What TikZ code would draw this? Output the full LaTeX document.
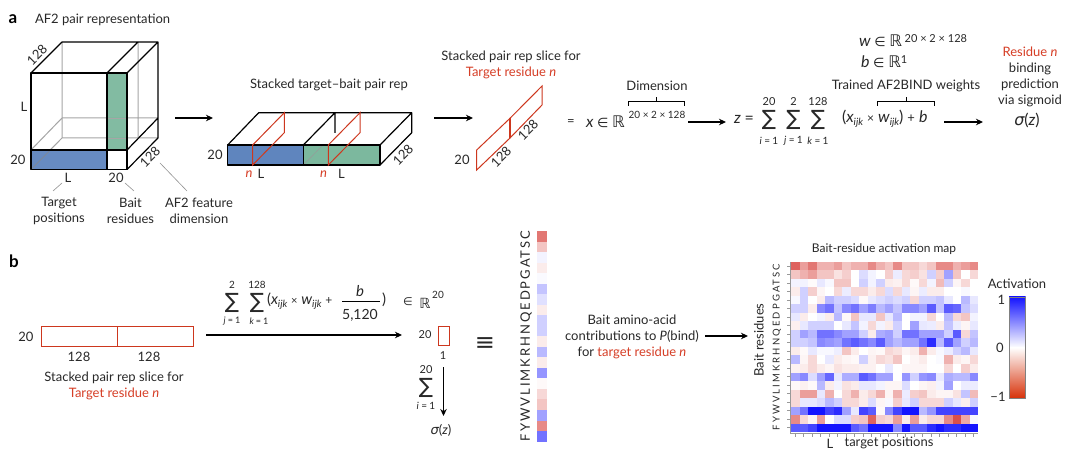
\documentclass[tikz,border=0pt]{standalone}
\usepackage{fontspec}
\setmainfont{Lato}
\newfontfamily\symf{DejaVu Sans}
\usetikzlibrary{arrows.meta}
\definecolor{ink}{RGB}{40,40,40}
\definecolor{tred}{RGB}{214,62,38}
\definecolor{lred}{RGB}{205,55,30}
\definecolor{bluef}{RGB}{95,133,190}
\definecolor{greenf}{RGB}{124,184,158}
\definecolor{hblue}{RGB}{20,20,255}
\definecolor{hred}{RGB}{214,60,55}
\definecolor{edgegray}{RGB}{165,165,165}
\newcommand\fs[1]{\fontsize{#1}{#1}\selectfont}
\newcommand\sbs[1]{\raisebox{-3pt}{\fs{10}\itshape #1}}
\newcommand\sps[1]{\raisebox{5pt}{\fs{10}#1}}
\newcommand\tr[1]{{\color{tred}#1}}
\tikzset{
  txt/.style={inner sep=0pt,outer sep=0pt,text=ink,align=center,font=\fontsize{13}{16}\selectfont},
  small/.style={txt,font=\fontsize{10}{12}\selectfont},
  big/.style={txt,font=\fontsize{16}{19}\selectfont},
  sumg/.style={txt,font=\symf\fontsize{21}{21}\selectfont},
  panel/.style={txt,font=\bfseries\fontsize{17}{17}\selectfont,text=black},
  arr/.style={line width=1.6pt,-{Stealth[length=7pt,width=6.5pt]},black},
  edge/.style={line width=1.2pt,black,line join=round},
  back/.style={line width=1pt,edgegray},
  thin/.style={line width=.6pt,gray!85},
  rededge/.style={line width=1pt,lred,line join=miter},
  brack/.style={line width=.9pt,black},
}
\begin{document}
\begin{tikzpicture}[x=1pt,y=-1pt]
\useasboundingbox (0,0) rectangle (1080,457);
\fill[white] (0,0) rectangle (1080,457);
% ---- panel a
\node[panel] (pa) at (13,19) {a};
\node[txt,anchor=west] (tpair) at (35,20) {AF2 pair representation};
% cube
\draw[back] (62,42)--(62,138)--(158,138) (31,169.5)--(62,138) (62,118)--(158,118) (31,150)--(62,118) (138,42)--(138,138);
\fill[bluef,opacity=.95] (31,150) rectangle (107,169.5);
\fill[greenf,opacity=.95] (107,73) rectangle (127,150);
\draw[line width=.5pt,black!45] (31,169.5)--(50.5,150);
\draw[line width=.5pt,black!35] (107,118)--(127,118) (107,138)--(127,138);
\draw[edge] (31,73) rectangle (127,169.5);
\draw[edge] (107,73)--(107,169.5) (31,150)--(127,150);
\draw[edge] (31,73)--(62,42)--(158,42)--(158,138)--(127,169.5) (127,73)--(158,42) (107,73)--(138,42) (127,150)--(158,118);
\node[txt,rotate=45] (c128a) at (37,55) {128};
\node[txt] (cLa) at (24,107) {L};
\node[txt] (c20a) at (18,160) {20};
\node[txt] (cLb) at (68,178) {L};
\node[txt] (c20b) at (116,178) {20};
\node[txt,rotate=45] (c128b) at (150,157) {128};
\node[txt] (ltarget) at (59,211) {Target\\positions};
\node[txt] (lbait) at (130.5,211) {Bait\\residues};
\node[txt] (lfeat) at (199,211) {AF2 feature\\dimension};
\coordinate (ld1a) at (62,183); \coordinate (ld1b) at (53,191);
\coordinate (ld2a) at (125,183); \coordinate (ld2b) at (134,191);
\coordinate (ld3a) at (160,163); \coordinate (ld3b) at (187,191);
\draw[thin] (ld1a)--(ld1b); \draw[thin] (ld2a)--(ld2b); \draw[thin] (ld3a)--(ld3b);
\coordinate (ar1a) at (175,118); \coordinate (ar1b) at (213,118);
\draw[arr] (ar1a)--(ar1b);
% stack
\node[txt] (tstack) at (329,85) {Stacked target--bait pair rep};
\fill[bluef] (227.7,145) rectangle (303.3,165);
\fill[greenf] (303.3,145) rectangle (380,165);
\draw[line width=.5pt,black!40] (252.7,165)--(272,145) (303.3,165)--(323,145);
\draw[edge] (227.7,145)--(380,145)--(380,165)--(227.7,165)--cycle;
\draw[edge] (303.3,145)--(303.3,165);
\draw[edge] (227.7,145)--(258.7,112.7)--(411.7,112.7)--(411.7,132.7)--(380,165) (380,145)--(411.7,112.7) (303.3,145)--(335,112.7)--(335,133);
\draw[rededge] (252.7,165)--(252.7,145)--(284.3,112.7)--(284.3,132.7)--cycle;
\draw[rededge] (328.3,165)--(328.3,145)--(360,112.7)--(360,132.7)--cycle;
\node[txt] (s20) at (215,155) {20};
\node[txt] (sn1) at (249,174) {\tr{\itshape n}};
\node[txt] (sL1) at (261,174) {L};
\node[txt] (sn2) at (323.5,174) {\tr{\itshape n}};
\node[txt] (sL2) at (341.5,174) {L};
\node[txt,rotate=45] (s128) at (403,155) {128};
\coordinate (ar2a) at (434,118); \coordinate (ar2b) at (473,118);
\draw[arr] (ar2a)--(ar2b);
% slice
\node[txt] (tslice) at (511,65) {Stacked pair rep slice for\\\tr{Target residue \itshape n}};
\draw[rededge] (476.7,170)--(476.7,150)--(510,118.3)--(510,138)--cycle;
\draw[rededge] (510,138)--(510,118.3)--(542,86)--(542,105)--cycle;
\draw[line width=1.8pt,lred] (510,118.3)--(510,138);
\node[txt] (sl20) at (462,160) {20};
\node[txt,rotate=45] (sl128a) at (501,157) {128};
\node[txt,rotate=45] (sl128b) at (528,130) {128};
% formula
\node[txt] (eqa) at (571,123) {=};
\node[big,anchor=west] (fx) at (586,122) {\itshape x {\symf\fs{13}∈} {\symf ℝ}};
\node[small] (fxs) at (657,115) {20 × 2 × 128};
\node[txt] (tdim) at (657,86) {Dimension};
\draw[brack] (628,106)--(628,101)--(684.5,101)--(684.5,106) (656.5,101)--(656.5,97);
\coordinate (ar3a) at (688,122); \coordinate (ar3b) at (726,122);
\draw[arr] (ar3a)--(ar3b);
\node[big,anchor=west] (fz) at (734,119) {\itshape z {\upshape =}};
\node[sumg] (su1) at (769,120) {∑}; \node[sumg] (su2) at (793.5,120) {∑}; \node[sumg] (su3) at (818,120) {∑};
\node[txt,font=\fs{11}] (su1u) at (769,102) {20}; \node[txt,font=\fs{11}] (su2u) at (793.5,102) {2}; \node[txt,font=\fs{11}] (su3u) at (818,102) {128};
\node[small] (su1l) at (769,141) {\itshape i {\upshape =} {\upshape 1}}; \node[small] (su2l) at (793.5,141) {\itshape j {\upshape =} {\upshape 1}}; \node[small] (su3l) at (818,141) {\itshape k {\upshape =} {\upshape 1}};
\node[big,anchor=west] (fsum) at (842,119) {({\itshape x}\sbs{ijk} {\fs{12}×} {\itshape w}\sbs{ijk}) {\fs{13}+} {\itshape b}};
\draw[brack] (877,106)--(877,101)--(934,101)--(934,106) (906,101)--(906,97);
\node[txt] (ttrain) at (906,86) {Trained AF2BIND weights};
\node[big,anchor=west] (fw) at (859,41) {\itshape w {\symf\fs{13}∈} {\symf ℝ}\,{\upshape\fs{11}\raisebox{4pt}{20 × 2 × 128}}};
\node[big,anchor=west] (fb) at (861,62) {\itshape b {\symf\fs{13}∈} {\symf ℝ}{\upshape\fs{11}\raisebox{4pt}{1}}};
\coordinate (ar4a) at (944,122); \coordinate (ar4b) at (983,122);
\draw[arr] (ar4a)--(ar4b);
\node[txt] (tres) at (1030,77) {\tr{Residue \itshape n}\\binding\\prediction\\via sigmoid};
\node[big] (fsig) at (1027,120) {{\symf\itshape σ}({\itshape z})};
% ---- panel b
\node[panel] (pb) at (14,261) {b};
\node[sumg] (bs1) at (232,303) {∑}; \node[sumg] (bs2) at (257,303) {∑};
\node[small] (bs1u) at (232,285) {2}; \node[small] (bs2u) at (257,285) {128};
\node[small,font=\fs{9}] (bs1l) at (232,321) {\itshape j {\upshape =} {\upshape 1}}; \node[small,font=\fs{9}] (bs2l) at (259,321) {\itshape k {\upshape =} {\upshape 1}};
\node[txt,anchor=west,font=\fs{15}] (bform) at (267,301) {({\itshape x}\sbs{ijk} {\fs{11}×} {\itshape w}\sbs{ijk} {\fs{12}+}};
\node[txt,font=\fs{15}] (bfb) at (360,291) {\itshape b};
\node[txt,font=\fs{14}] (bfd) at (360,315) {5,120};
\coordinate (bfl) at (342,301.5); \coordinate (bfr) at (380,301.5);
\draw[line width=.8pt,black] (bfl)--(bfr);
\node[txt,font=\fs{15}] (bclose) at (384,300) {)};
\node[txt,font=\symf\fs{11}] (bin) at (408,302) {∈};
\node[txt,font=\symf\fs{14}] (bR) at (425,303) {ℝ};
\node[small] (bR20) at (438,295) {20};
\draw[line width=1pt,lred] (41.5,326.5) rectangle (193.5,346.5) (117.5,326.5)--(117.5,346.5);
\node[txt] (b20) at (26,337) {20};
\node[txt] (b128a) at (79,357) {128};
\node[txt] (b128b) at (149,357) {128};
\node[txt] (tb) at (114,385.5) {Stacked pair rep slice for\\\tr{Target residue \itshape n}};
\coordinate (ar5a) at (206,335); \coordinate (ar5b) at (402,335);
\draw[arr] (ar5a)--(ar5b);
\node[small,font=\fs{11}] (r20) at (425,335) {20};
\draw[line width=1pt,lred] (438,326.5) rectangle (449,346);
\node[small,font=\fs{11}] (r1) at (443,356) {1};
\node[sumg] (rs) at (426,388) {∑};
\node[small,font=\fs{11}] (rsu) at (426,370) {20};
\node[small] (rsl) at (426,406) {\itshape i {\upshape =} {\upshape 1}};
\coordinate (ar6a) at (443.5,367); \coordinate (ar6b) at (443.5,416);
\draw[arr] (ar6a)--(ar6b);
\node[txt] (rsig) at (441,430) {{\symf\itshape σ}({\itshape z})};
\node[txt,font=\symf\fs{24}] (equiv) at (485,344) {≡};
% column
\foreach \v [count=\r from 0] in {-7,-3,.5,-1,.2,2.5,1.3,-1,2,2,-1,3,-1,4.5,-.3,-2,-3,4,-6,6}{
  \pgfmathsetmacro\p{abs(\v)*10}
  \pgfmathsetmacro\yy{231+\r*10.53}
  \ifdim \v pt<0pt \def\cc{hred}\else\def\cc{hblue}\fi
  \fill[\cc!\p!white] (536.7,\yy) rectangle +(10.3,10.6);
}
\node[txt,rotate=90,font=\fs{13}\addfontfeature{LetterSpace=15}] (collab) at (526,336) {FYWVLIMKRHNQEDPGATSC};
\node[txt] (tcontrib) at (632,337) {Bait amino-acid\\contributions to {\itshape P}(bind)\\for \tr{target residue \itshape n}};
\coordinate (ar7a) at (705,336); \coordinate (ar7b) at (748,336);
\draw[arr] (ar7a)--(ar7b);
% heat map
\node[txt,font=\fs{12}] (thm) at (884,249) {Bait-residue activation map};
\foreach \row [count=\r from 0] in {
{-8,-5,-7,-4,-4,-5,-3,-4,-4,-6,-4,-3,-6,-3,-3,-2,-3,-6,-6,-4,-5,-6},
{-3,-4,-5,-3,-3,-1.5,-2.5,0,1.5,.5,0,-2.5,.8,-2,-2.5,-1.5,2,-2.5,4,-3,0,-2},
{.5,.5,-.2,1,.3,-3,-3,0,2,.5,2,-1,-.7,-2,-.3,-2,.5,-3.5,2,-.5,-2,0},
{-1,2,-2.5,-.5,0,-2,.8,-2,-2,-1,-2,1.5,-2,1,-.5,.8,-1,-1,0,0,.3,0},
{.3,2,0,-1,3,2,2,1.5,-.3,1,1.5,2,1.5,2,-2,2,2,2.5,1,0,3,1},
{2,2,-1,5,6,2.5,5,6,4,5.5,3,4,2.5,5,5,4,7,2.5,7,6.5,2.5,1.5},
{1,-1,0,.5,-1,3,-.3,-3,1,1,-3,1,3,0,.5,.5,-2,0,3,-2,-3,.5},
{-.8,1,2,2,2,0,1,2.5,.5,-2,.5,-1,2,0,4,1,.8,-1,2.5,.8,-.5,1},
{2,4,3,6,6,5,4,4,2,-1,3.5,4,2,6,6,4,4,4,2,7,-2,2.5},
{2,2,2.5,5,4.5,4,6,7,6,5,7,4,3,4,4,6,9,3,7,4,2,3},
{-1,-.3,1,.3,.3,.7,-3,-1,0,-.5,-.3,-2,-1.5,-.5,-1,-4,-1,.3,.8,2,3,1},
{3,-.5,-2,0,1,-1,-.5,-.3,2,-.7,-2,-1.5,-3,0,-.5,-1,0,.2,-4,-1,-.5,-2},
{-.7,-1,-2,-1,-.5,-1.5,-1,-1,-.7,-.7,0,1,0,-.5,-.5,-.5,0,0,-2,0,-2.5,-1},
{4,5,1.5,4,6.5,1,3.5,3.5,7,6,4,4,0,4.5,2,4.5,5,1,3.5,3,3,5},
{-.3,-.7,-.3,3,-1,.5,-1.5,-1,1,1,.5,-.5,-.5,1.5,0,-.5,-.8,.5,4,0,.8,.8},
{-2,-5,-5,1,-4,0,-2,-4,-1,-2,-4,-.5,-4,.8,-2.5,-3,-1,-.5,-.5,-1.5,2.5,-3.5},
{-2,1,1,1.5,3,2,-2,-2,-1,1.5,-.5,.3,-2.5,1,2,-2,-2,-2,2,1,-.8,2},
{4,6,10,10,8,9,4,1,8,7,-.3,5,8,10,10,3,4.5,8,8,8,8,8},
{-6,-2,-.5,-5,0,1.5,1.5,-2.5,-3,-8,-2.5,-2,-5,-1,-5,-1,-2,-2,-6,-9,-4.5,.3},
{7,7,8,10,10,10,10,7,6,10,10,10,5,10,7,7,9,10,9,9,10,10}}{
  \foreach \v [count=\c from 0] in \row {
    \pgfmathsetmacro\p{abs(\v)*10}
    \pgfmathsetmacro\xx{791+\c*8.5}
    \pgfmathsetmacro\yy{262+\r*8.5}
    \ifdim \v pt<0pt \def\cc{hred}\else\def\cc{hblue}\fi
    \fill[\cc!\p!white] (\xx,\yy) rectangle +(8.6,8.6);
  }
}
\draw[line width=.8pt,gray!80] (790,262)--(790,433)--(978,433);
\foreach \i in {0,...,19}{\draw[line width=.6pt,gray!80] (787,{266.25+\i*8.5})--(790,{266.25+\i*8.5});}
\foreach \i in {0,...,21}{\draw[line width=.6pt,gray!80] ({795.25+\i*8.5},433)--({795.25+\i*8.5},437);}
\node[txt,rotate=90,font=\fs{9.5}\addfontfeature{LetterSpace=22}] (hlab) at (777,347) {FYWVLIMKRHNQEDPGATSC};
\node[txt,rotate=90] (hbr) at (759,340) {Bait residues};
\node[txt] (hL) at (830,444) {L};
\node[txt] (htp) at (889,443) {target positions};
\node[txt] (tact) at (1017,284) {Activation};
\shade[top color=hblue,bottom color=white] (1009,297) rectangle (1025.7,347.5);
\shade[top color=white,bottom color={rgb,255:red,215;green,50;blue,10}] (1009,347.5) rectangle (1025.7,398);
\draw[line width=.5pt,gray] (1009,297) rectangle (1025.7,398);
\node[txt] (cb1) at (1001.5,300) {1};
\node[txt] (cb0) at (1000,348) {0};
\node[txt] (cbm) at (998,397) {−1};
\end{tikzpicture}
\end{document}
